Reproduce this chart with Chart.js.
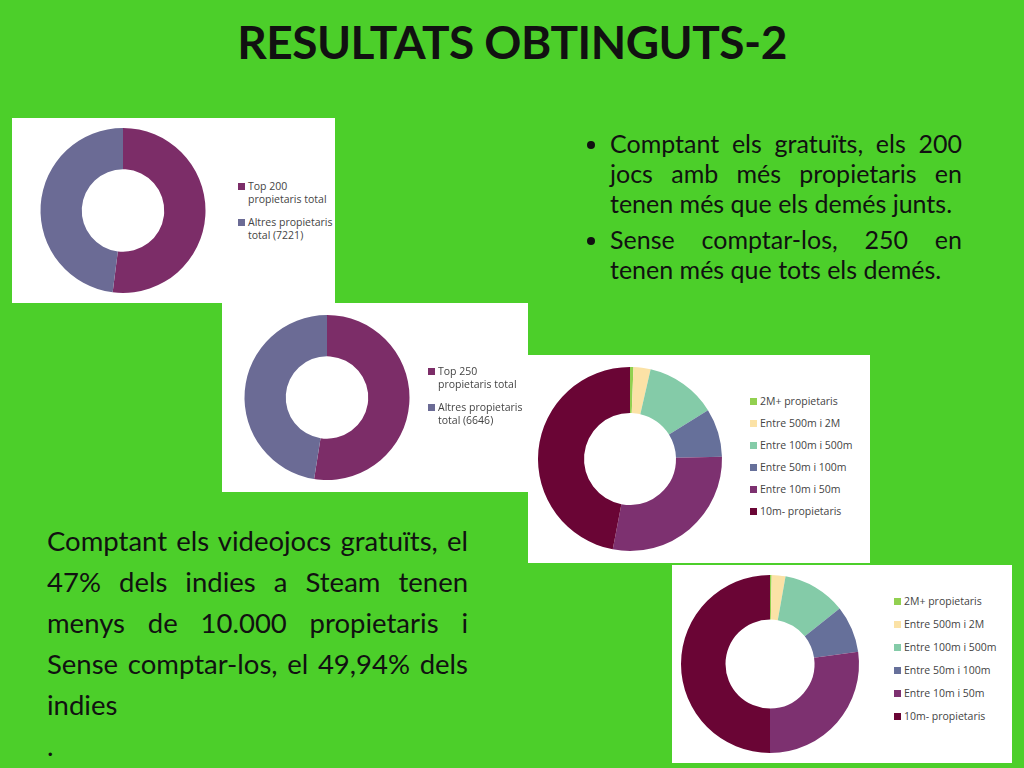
<!DOCTYPE html>
<html>
<head>
<meta charset="utf-8">
<script src="https://cdn.jsdelivr.net/npm/chart.js@4"></script>
<style>
  body { margin: 0; width: 1024px; height: 768px; background: #4ccf2a; overflow: hidden; position: relative; font-family: Lato, "Open Sans", sans-serif; }
  h1 { position: absolute; top: 14px; left: 0; width: 1024px; margin: 0; text-align: center; font-size: 46px; font-weight: bold; color: #111; letter-spacing: -0.5px; }
  .box { position: absolute; background: #fff; }
  .box canvas { position: absolute; left: 0; top: 0; }
  .leg { position: absolute; font-family: "Open Sans", sans-serif; font-size: 10.5px; color: #444; line-height: 13px; }
  .leg div { position: relative; padding-left: 10px; margin-bottom: 9px; }
  .leg span { position: absolute; left: 0; top: 3px; width: 7px; height: 7px; }
  .bul { position: absolute; left: 572px; top: 128px; width: 390px; font-size: 25px; line-height: 30px; color: #111; }
  .bul ul { margin: 0; padding-left: 38px; }
  .bul li { text-align: justify; margin-bottom: 6px; }
  .txt { position: absolute; left: 47px; top: 520px; width: 421px; font-size: 27.5px; line-height: 41px; color: #111; text-align: justify; }
</style>
</head>
<body>
<h1>RESULTATS OBTINGUTS-2</h1>

<div class="box" style="left:12px;top:118px;width:323px;height:185px"><canvas id="c1"></canvas>
  <div class="leg" id="l1" style="left:226px;top:62px"></div></div>
<div class="box" style="left:222px;top:303px;width:306px;height:189px"><canvas id="c2"></canvas>
  <div class="leg" id="l2" style="left:206px;top:62px"></div></div>
<div class="box" style="left:528px;top:355px;width:342px;height:208px"><canvas id="c3"></canvas>
  <div class="leg" id="l3" style="left:222px;top:40px"></div></div>
<div class="box" style="left:672px;top:565px;width:340px;height:198px"><canvas id="c4"></canvas>
  <div class="leg" id="l4" style="left:222px;top:30px"></div></div>

<div class="bul"><ul>
  <li>Comptant els gratuïts, els 200 jocs amb més propietaris en tenen més que els demés junts.</li>
  <li>Sense comptar-los, 250 en tenen més que tots els demés.</li>
</ul></div>

<div class="txt">Comptant els videojocs gratuïts, el 47% dels indies a Steam tenen menys de 10.000 propietaris i Sense comptar-los, el 49,94% dels indies<br>.</div>

<script>
const labels1 = [["Top 200", "propietaris total"], ["Altres propietaris", "total (7221)"]]
const values1 = [52, 48]
const labels2 = [["Top 250", "propietaris total"], ["Altres propietaris", "total (6646)"]]
const values2 = [52.5, 47.5]
const twoColors = ["#7c2d68", "#6b6b95"]

const rangeLabels = ["2M+ propietaris", "Entre 500m i 2M", "Entre 100m i 500m", "Entre 50m i 100m", "Entre 10m i 50m", "10m- propietaris"]
const values3 = [0.6, 3, 12.5, 8.5, 28.4, 47]
const values4 = [0.3, 2.5, 11.5, 8.5, 27.2, 50]
const rangeColors = ["#92d050", "#fbe2a6", "#84cba8", "#66709a", "#7d3170", "#6a0535"]

function donut(id, w, h, pad, values, colors) {
  const cv = document.getElementById(id)
  cv.width = w
  cv.height = h
  cv.style.width = w + "px"
  cv.style.height = h + "px"
  new Chart(cv, {
    type: "doughnut",
    data: { labels: values.map((v, i) => "s" + i), datasets: [{ data: values, backgroundColor: colors, borderWidth: 0 }] },
    options: {
      responsive: false,
      animation: false,
      cutout: "50%",
      layout: { padding: pad },
      plugins: { legend: { display: false }, tooltip: { enabled: false } },
    },
  })
}

function legend(id, labels, colors, gap) {
  const el = document.getElementById(id)
  labels.forEach((l, i) => {
    const d = document.createElement("div")
    d.style.marginBottom = gap + "px"
    d.innerHTML = '<span style="background:' + colors[i] + '"></span>' + [].concat(l).join("<br>")
    el.appendChild(d)
  })
}

donut("c1", 222, 185, 10, values1, twoColors)
donut("c2", 210, 189, 12, values2, twoColors)
donut("c3", 204, 208, 10, values3, rangeColors)
donut("c4", 196, 198, 9, values4, rangeColors)
legend("l1", labels1, twoColors, 10)
legend("l2", labels2, twoColors, 10)
legend("l3", rangeLabels, rangeColors, 9)
legend("l4", rangeLabels, rangeColors, 10)
</script>
</body>
</html>
